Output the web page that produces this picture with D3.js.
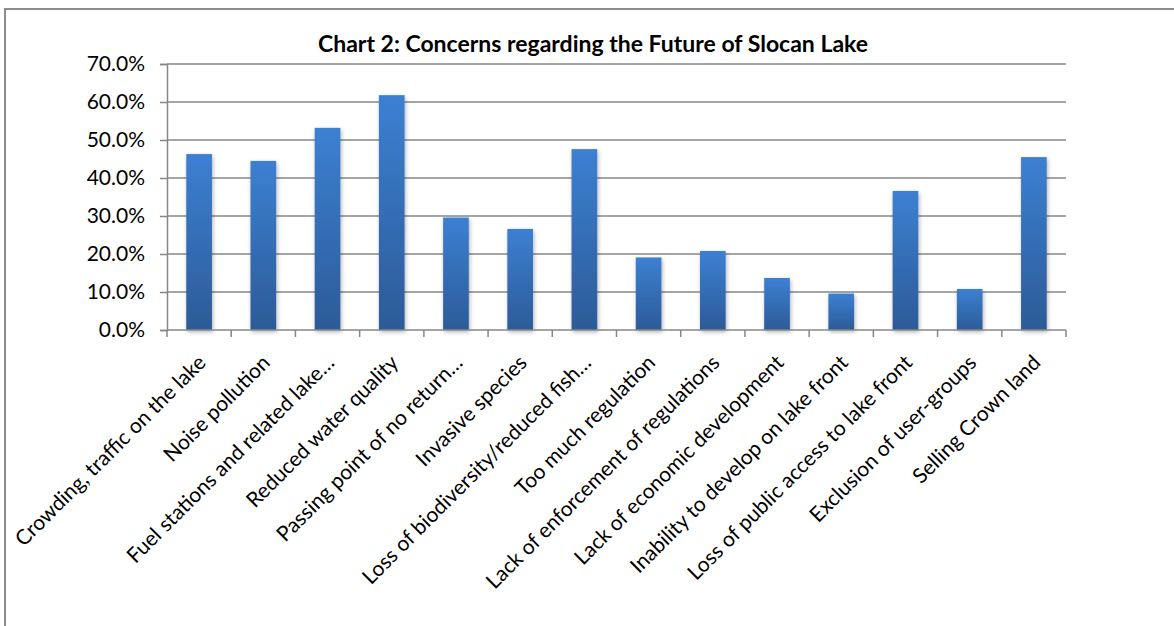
<!DOCTYPE html>
<html><head><meta charset="utf-8">
<script src="https://cdn.jsdelivr.net/npm/d3@7"></script>
<style>body{margin:0;background:#fff;}svg{display:block;}</style>
</head><body>
<svg id="c" width="1174" height="626"></svg>
<script>
const title = "Chart 2: Concerns regarding the Future of Slocan Lake";
const categories = [
  "Crowding, traffic on the lake",
  "Noise pollution",
  "Fuel stations and related lake…",
  "Reduced water quality",
  "Passing point of no return…",
  "Invasive species",
  "Loss of biodiversity/reduced fish…",
  "Too much regulation",
  "Lack of enforcement of regulations",
  "Lack of economic development",
  "Inability to develop on lake front",
  "Loss of public access to lake front",
  "Exclusion of user-groups",
  "Selling Crown land"
];
const values = [0.463, 0.445, 0.532, 0.618, 0.296, 0.266, 0.476, 0.191, 0.208, 0.137, 0.096, 0.366, 0.108, 0.455];
const yTicks = [0, 0.1, 0.2, 0.3, 0.4, 0.5, 0.6, 0.7];

const FONT = "Lato, 'Open Sans', sans-serif";
const svg = d3.select("#c");
const m = {left:167, right:1066, top:64, bottom:330};
const x = d3.scaleBand().domain(categories).range([m.left, m.right]).paddingInner(0.6).paddingOuter(0.3);
const y = d3.scaleLinear().domain([0, 0.7]).range([m.bottom, m.top]);

const defs = svg.append("defs");
const g1 = defs.append("linearGradient").attr("id","barg").attr("x1",0).attr("y1",0).attr("x2",0).attr("y2",1);
g1.append("stop").attr("offset","0%").attr("stop-color","#3c80d2");
g1.append("stop").attr("offset","100%").attr("stop-color","#2c5b98");
const f = defs.append("filter").attr("id","sh").attr("x","-30%").attr("y","-10%").attr("width","160%").attr("height","120%");
f.append("feDropShadow").attr("dx",1).attr("dy",2).attr("stdDeviation",2).attr("flood-color","#000").attr("flood-opacity",0.3);

// frame
svg.append("rect").attr("x",5).attr("y",9).attr("width",1200).attr("height",700)
  .attr("fill","none").attr("stroke","#8c8c8c").attr("stroke-width",2);

// gridlines
svg.append("g").selectAll("line").data(yTicks.slice(1)).join("line")
  .attr("x1", m.left).attr("x2", m.right).attr("y1", d=>y(d)).attr("y2", d=>y(d))
  .attr("stroke","#878787").attr("stroke-width",1.5);

// y axis
const ya = svg.append("g").attr("transform",`translate(${m.left},0)`)
  .call(d3.axisLeft(y).tickValues(yTicks).tickFormat(d3.format(".1%")).tickSize(7).tickPadding(15));
ya.select(".domain").attr("stroke","#878787").attr("stroke-width",1.5);
ya.selectAll(".tick line").attr("stroke","#878787").attr("stroke-width",1.5);
ya.selectAll("text").attr("font-family",FONT).attr("font-size",21).attr("fill","#000");

// bars
svg.append("g").selectAll("rect").data(values).join("rect")
  .attr("x",(d,i)=>x(categories[i])).attr("width",x.bandwidth())
  .attr("y",d=>y(d)).attr("height",d=>y(0)-y(d))
  .attr("fill","url(#barg)").attr("filter","url(#sh)");

// x axis line and ticks
const bounds = d3.range(categories.length+1).map(i=>m.left + i*(m.right-m.left)/categories.length);
svg.append("line").attr("x1",m.left).attr("x2",m.right).attr("y1",y(0)).attr("y2",y(0))
  .attr("stroke","#878787").attr("stroke-width",1.5);
svg.append("g").selectAll("line").data(bounds).join("line")
  .attr("x1",d=>d).attr("x2",d=>d).attr("y1",y(0)).attr("y2",y(0)+7)
  .attr("stroke","#878787").attr("stroke-width",1.5);

// category labels
svg.append("g").selectAll("text").data(categories).join("text")
  .attr("transform",d=>`translate(${x(d)+x.bandwidth()/2+8},${y(0)+34}) rotate(-45)`)
  .attr("text-anchor","end")
  .attr("font-family",FONT).attr("font-size",21).attr("fill","#000")
  .text(d=>d);

// title
svg.append("text").attr("x",593).attr("y",52).attr("text-anchor","middle")
  .attr("font-family",FONT).attr("font-weight","bold").attr("font-size",23)
  .attr("fill","#000").text(title);
</script>
</body></html>
